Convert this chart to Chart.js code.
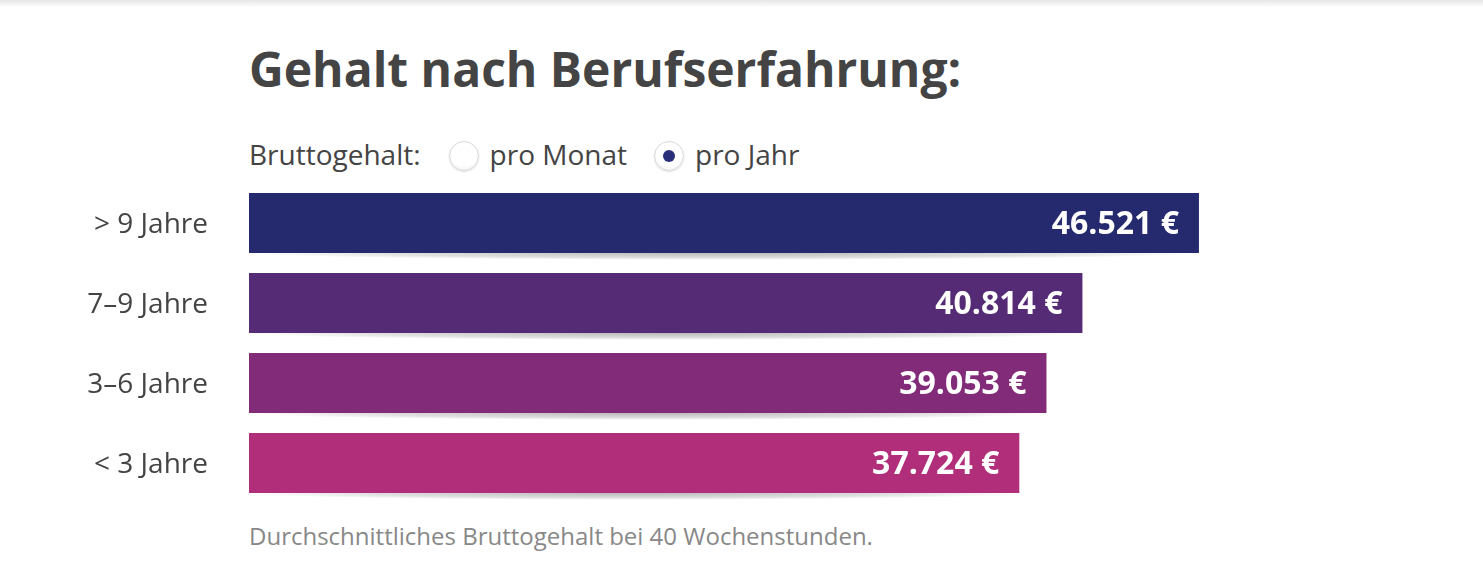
<!DOCTYPE html>
<html>
<head>
<meta charset="utf-8">
<script src="https://cdn.jsdelivr.net/npm/chart.js@4.4.0/dist/chart.umd.min.js"></script>
<style>
  html, body { margin: 0; padding: 0; background: #fff; width: 1483px; height: 577px; overflow: hidden; font-family: "Open Sans", sans-serif; }
  #topbar { position: absolute; left: 0; top: 0; width: 1483px; height: 7px; background: linear-gradient(#e6e6e6, #f4f4f4 60%, #fff); }
  #title { position: absolute; left: 249px; top: 36px; font-size: 48px; line-height: 66px; font-weight: 700; color: #444; margin: 0; white-space: nowrap; }
  #radios { position: absolute; left: 249px; top: 135px; font-size: 28px; color: #444; white-space: nowrap; height: 38px; line-height: 38px; }
  .radio { display: inline-block; width: 30px; height: 30px; border-radius: 50%; border: 1px solid #d8d8d8; box-sizing: border-box;
           background: radial-gradient(circle at 50% 40%, #fff 55%, #eee 100%); vertical-align: middle; position: relative; top: -2px; box-shadow: 0 1px 2px rgba(0,0,0,0.12); }
  .radio.on::after { content: ""; position: absolute; left: 8px; top: 8px; width: 12px; height: 12px; border-radius: 50%; background: #2a2f7a; }
  #note { position: absolute; left: 249px; top: 519px; font-size: 24px; color: #888; white-space: nowrap; }
  #wrap { position: absolute; left: 0; top: 0; width: 1483px; height: 577px; }
</style>
</head>
<body>
<div id="topbar"></div>
<h1 id="title">Gehalt nach Berufserfahrung:</h1>
<div id="radios"><span>Bruttogehalt:</span><span style="display:inline-block;width:28px"></span><span class="radio"></span><span style="margin-left:11px">pro Monat</span><span style="display:inline-block;width:27px"></span><span class="radio on"></span><span style="margin-left:11px">pro Jahr</span></div>
<div id="note">Durchschnittliches Bruttogehalt bei 40 Wochenstunden.</div>
<div id="wrap"><canvas id="c"></canvas></div>
<script>
const categories = ["> 9 Jahre", "7–9 Jahre", "3–6 Jahre", "< 3 Jahre"];
const salaries = [46521, 40814, 39053, 37724];
const barColors = ["#242a6d", "#542b74", "#822b79", "#b12e7b"];
const currency = "€";

function fmt(v) {
  return String(Math.round(v)).replace(/\B(?=(\d{3})+(?!\d))/g, ".") + " " + currency;
}

const shadowPlugin = {
  id: "barShadow",
  beforeDatasetsDraw(chart) {
    const ctx = chart.ctx;
    chart.getDatasetMeta(0).data.forEach(bar => {
      const left = bar.base, right = bar.x;
      const bottom = bar.y + bar.height / 2;
      const w = right - left;
      ctx.save();
      ctx.beginPath();
      ctx.rect(left - 5, bottom, w + 10, 12);
      ctx.clip();
      ctx.translate((left + right) / 2, bottom);
      ctx.scale(w / 2, 7);
      const g = ctx.createRadialGradient(0, 0, 0, 0, 0, 1);
      g.addColorStop(0, "rgba(0,0,0,0.28)");
      g.addColorStop(0.7, "rgba(0,0,0,0.12)");
      g.addColorStop(1, "rgba(0,0,0,0)");
      ctx.fillStyle = g;
      ctx.beginPath();
      ctx.arc(0, 0, 1, 0, Math.PI * 2);
      ctx.fill();
      ctx.restore();
    });
  }
};

const labelPlugin = {
  id: "valueLabels",
  afterDatasetsDraw(chart) {
    const ctx = chart.ctx;
    const ds = chart.data.datasets[0];
    chart.getDatasetMeta(0).data.forEach((bar, i) => {
      ctx.save();
      ctx.fillStyle = "#ffffff";
      ctx.font = "700 32px 'Open Sans'";
      ctx.textAlign = "right";
      ctx.textBaseline = "middle";
      ctx.fillText(fmt(ds.data[i]), bar.x - 20, bar.y + 2);
      ctx.restore();
    });
  }
};

new Chart(document.getElementById("c"), {
  type: "bar",
  data: {
    labels: categories,
    datasets: [{
      data: salaries,
      backgroundColor: barColors,
      borderWidth: 0,
      categoryPercentage: 0.75,
      barPercentage: 1.0
    }]
  },
  options: {
    indexAxis: "y",
    responsive: true,
    maintainAspectRatio: false,
    animation: false,
    events: [],
    layout: { padding: { left: 0, right: 213, top: 183, bottom: 74 } },
    plugins: { legend: { display: false }, tooltip: { enabled: false }, title: { display: false } },
    scales: {
      x: {
        display: false,
        min: 0,
        max: 50000
      },
      y: {
        afterFit(scale) { scale.width = 249; },
        grid: { display: false, drawTicks: false },
        border: { display: false },
        ticks: {
          color: "#444",
          padding: 41,
          labelOffset: 2,
          font: { family: "'Open Sans'", size: 28 }
        }
      }
    }
  },
  plugins: [shadowPlugin, labelPlugin]
});
</script>
</body>
</html>
